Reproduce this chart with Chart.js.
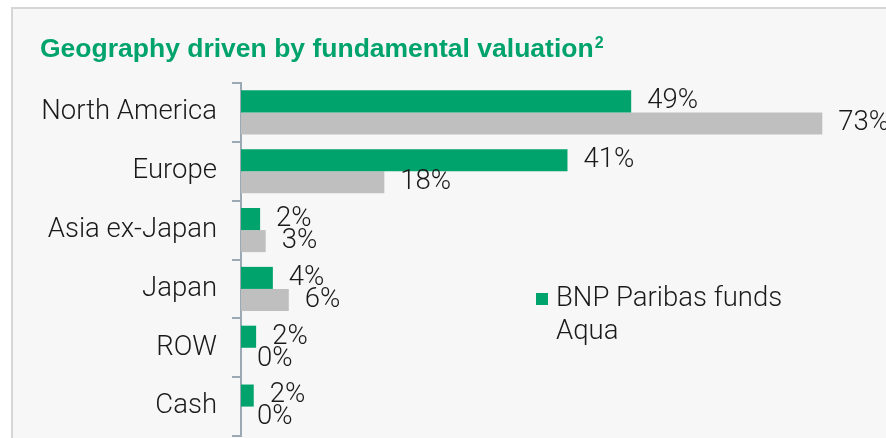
<!DOCTYPE html>
<html>
<head>
<meta charset="utf-8">
<script src="https://cdn.jsdelivr.net/npm/chart.js@4"></script>
<style>
  html, body { margin: 0; padding: 0; background: #ffffff; }
  #wrap { position: relative; width: 886px; height: 438px; overflow: hidden; }
  #card {
    position: absolute; left: 11px; top: 7px; width: 900px; height: 460px;
    background: #f7f7f7; border-top: 2px solid #d6d6d6; border-left: 2px solid #d6d6d6;
  }
  #chart { position: absolute; left: 0; top: 0; }
</style>
</head>
<body>
<div id="wrap">
  <div id="card"></div>
  <canvas id="chart" width="886" height="438"></canvas>
</div>
<script>
// Data
const regions = ["North America", "Europe", "Asia ex-Japan", "Japan", "ROW", "Cash"];
const bnpFunds = [49, 41, 2.4, 4, 1.9, 1.6];
const aqua = [73, 18, 3.1, 6, 0, 0];
const bnpLabels = ["49%", "41%", "2%", "4%", "2%", "2%"];
const aquaLabels = ["73%", "18%", "3%", "6%", "0%", "0%"];

const green = "#00a36c";
const grey = "#bfbfbf";
const fontFamily = "Roboto, 'DejaVu Sans Condensed', sans-serif";
const textFont = "300 27.5px " + fontFamily;

// Title drawn at the top left of the card
const titlePlugin = {
  id: "titleText",
  afterDraw(chart) {
    const c = chart.ctx;
    c.save();
    c.font = "bold 26.5px 'Liberation Sans', Arial, sans-serif";
    c.fillStyle = green;
    c.textBaseline = "alphabetic";
    const t = "Geography driven by fundamental valuation";
    c.fillText(t, 40, 57);
    const w = c.measureText(t).width;
    c.font = "bold 16px 'Liberation Sans', Arial, sans-serif";
    c.fillText("2", 40 + w + 1, 48);
    c.restore();
  }
};

// Value labels at bar ends
const valueLabels = {
  id: "valueLabels",
  afterDatasetsDraw(chart) {
    const c = chart.ctx;
    const labelSets = [bnpLabels, aquaLabels];
    c.save();
    c.font = textFont;
    c.fillStyle = "#1a1a1a";
    c.textAlign = "left";
    c.textBaseline = "middle";
    chart.data.datasets.forEach((ds, i) => {
      const meta = chart.getDatasetMeta(i);
      meta.data.forEach((bar, j) => {
        c.fillText(labelSets[i][j], bar.x + 16, bar.y);
      });
    });
    c.restore();
  }
};

// Legend inside the plot: green box only for BNP, plain text for Aqua
const legendPlugin = {
  id: "sideLegend",
  afterDraw(chart) {
    const c = chart.ctx;
    c.save();
    c.fillStyle = green;
    c.fillRect(536, 293, 12, 12);
    c.font = textFont;
    c.fillStyle = "#1a1a1a";
    c.textBaseline = "middle";
    c.fillText("BNP Paribas funds", 556, 299);
    c.fillText("Aqua", 556, 332);
    c.restore();
  }
};

new Chart(document.getElementById("chart"), {
  type: "bar",
  data: {
    labels: regions,
    datasets: [
      { label: "BNP Paribas funds", data: bnpFunds, backgroundColor: green,
        categoryPercentage: 0.75, barPercentage: 1.0 },
      { label: "Aqua", data: aqua, backgroundColor: grey,
        categoryPercentage: 0.75, barPercentage: 1.0 }
    ]
  },
  options: {
    indexAxis: "y",
    responsive: false,
    animation: false,
    layout: { padding: { top: 83, bottom: 2, left: 0, right: 0 } },
    plugins: {
      legend: { display: false },
      tooltip: { enabled: false }
    },
    scales: {
      x: { display: false, min: 0, max: 81 },
      y: {
        afterFit(scale) {
          scale.width = 241;
          scale.paddingTop = 0;
          scale.paddingBottom = 0;
        },
        border: { display: true, color: "#9ba9b4", width: 2 },
        grid: { drawOnChartArea: false, drawTicks: true, tickLength: 9, color: "#9ba9b4", lineWidth: 2 },
        ticks: { padding: 15, color: "#1a1a1a", font: { family: fontFamily, size: 27.5, weight: 300 } }
      }
    }
  },
  plugins: [titlePlugin, valueLabels, legendPlugin]
});
</script>
</body>
</html>
